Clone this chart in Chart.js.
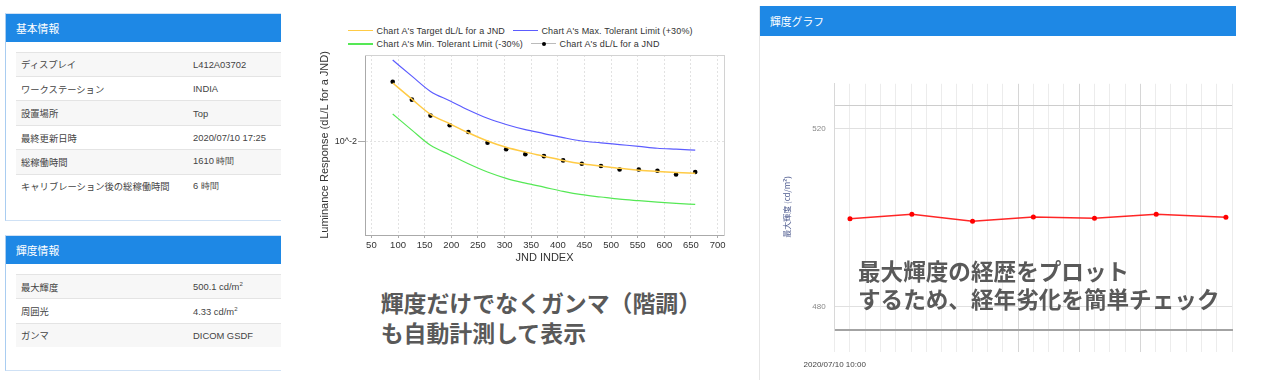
<!DOCTYPE html>
<html><head><meta charset="utf-8">
<script src="https://cdn.jsdelivr.net/npm/chart.js@4.4.0/dist/chart.umd.min.js"></script>
<style>
html,body{margin:0;padding:0;background:#fff;width:1280px;height:380px;overflow:hidden;font-family:"Liberation Sans",Arial,sans-serif;}
.panel{position:absolute;box-sizing:border-box;background:#fff;border:1px solid #cfe1f5;border-left-color:#a9cdf1;border-right:none;overflow:hidden;}
.phead{background:#1e88e5;color:#fff;font-family:"Noto Sans CJK JP";font-size:10.8px;height:28px;line-height:28px;padding-left:10px;}
.rows{position:absolute;left:10px;right:0;}
.row{height:24.4px;box-sizing:border-box;border-top:1px solid #e4e4e4;display:flex;align-items:center;}
.row.g{background:#f7f7f7;}
.row .k{width:177px;padding-left:5px;box-sizing:border-box;font-family:"Noto Sans CJK JP";font-size:9.3px;color:#444;}
.row .v{font-size:9.4px;color:#444;}
.note{position:absolute;font-family:"Noto Sans CJK JP";font-weight:bold;font-size:22.6px;color:#595959;white-space:nowrap;}
#legend{position:absolute;left:348px;top:24px;font-size:9px;color:#333;letter-spacing:0.15px;}
#legend .lrow{display:flex;align-items:center;height:13.3px;}
#legend .item{display:flex;align-items:center;margin-right:8px;white-space:nowrap;}
#legend .sw{position:relative;width:25px;height:1.5px;margin-right:3.5px;}
#legend .dot{position:absolute;left:10.5px;top:-1.75px;width:4px;height:4px;border-radius:50%;background:#000;}
</style></head>
<body>
<!-- left panels -->
<div class="panel" style="left:5px;top:13px;width:276px;height:208px;">
  <div class="phead">基本情報</div>
  <div class="rows" id="info1" style="top:37.7px;"></div>
</div>
<div class="panel" style="left:5px;top:235px;width:276px;height:136px;">
  <div class="phead">輝度情報</div>
  <div class="rows" id="info2" style="top:38px;"></div>
</div>

<!-- middle chart -->
<div id="legend"></div>
<div style="position:absolute;left:310px;top:45px;width:420px;height:224px;"><canvas id="jnd" width="420" height="224"></canvas></div>
<div class="note" style="left:380.7px;top:286.7px;line-height:30px;font-size:22.9px;">輝度だけでなくガンマ（階調）<br>も自動計測して表示</div>

<!-- right panel -->
<div class="panel" style="left:759px;top:6px;width:477px;height:390px;border-color:#e8eef5;border-left-color:#e6e6e6;border-top:none;">
  <div class="phead" style="height:30px;line-height:30px;">輝度グラフ</div>
</div>
<div style="position:absolute;left:770px;top:70px;width:470px;height:300px;"><canvas id="lum" width="470" height="300"></canvas></div>
<div class="note" style="left:858px;top:256.9px;line-height:28.3px;">最大輝度の経歴をプロット<br>するため、経年劣化を簡単チェック</div>

<script>
// ---------- info tables ----------
const infoKeys1 = ['ディスプレイ','ワークステーション','設置場所','最終更新日時','総稼働時間','キャリブレーション後の総稼働時間'];
const infoVals1 = ['L412A03702','INDIA','Top','2020/07/10 17:25','1610 時間','6 時間'];
const infoKeys2 = ['最大輝度','周囲光','ガンマ'];
const infoVals2 = ['500.1 cd/m<sup style="font-size:6px">2</sup>','4.33 cd/m<sup style="font-size:6px">2</sup>','DICOM GSDF'];

// ---------- JND chart data ----------
const jndIndex   = [90,126,161,197,232,268,303,339,374,410,445,481,516,552,587,622,658];
const targetDLL  = [0.0195,0.0162,0.0136,0.0122,0.0110,0.0100,0.0093,0.0088,0.0084,0.0080,0.0077,0.0075,0.0073,0.00715,0.00705,0.00697,0.0069];
const maxLimit   = [0.0254,0.0211,0.0177,0.0159,0.0143,0.0130,0.0121,0.0114,0.0109,0.0104,0.0100,0.0098,0.0096,0.0094,0.0092,0.0091,0.0090];
const minLimit   = [0.01365,0.01134,0.00952,0.00854,0.0077,0.0070,0.00651,0.00616,0.00588,0.0056,0.00539,0.00525,0.00512,0.00503,0.00495,0.00488,0.00482];
const measuredDLL= [0.0198,0.0161,0.0134,0.0120,0.0111,0.0098,0.0091,0.0086,0.0084,0.0080,0.0077,0.0075,0.0072,0.0072,0.0071,0.0068,0.0070];
const jndSeriesNames = ["Chart A's Target dL/L for a JND","Chart A's Max. Tolerant Limit (+30%)","Chart A's Min. Tolerant Limit (-30%)","Chart A's dL/L for a JND"];
const jndXTicks = [50,100,150,200,250,300,350,400,450,500,550,600,650,700];
const jndYTicks = [0.01];
const jndYTickLabels = ['10^-2'];

// ---------- luminance chart data ----------
const lumPos = [1,5.05,9.02,13,17,21.04,25.6];
const maxLuminance = [499.8,500.8,499.2,500.2,499.9,500.8,500.1];
const lumXGrid = [0,1,2,3,4,5,6,7,8,9,10,11,12,13,14,15,16,17,18,19,20,21,22,23,24,25,26];
const lumXMajor = [12,16,20];
const lumXTickLabels = ['2020/07/10 10:00'];
const lumYTicks = [480,520,525.3];
const lumYTickLabels = ['480','520',''];

function fillRows(id, keys, vals){
  const el = document.getElementById(id);
  keys.forEach((k,i)=>{
    const r = document.createElement('div');
    r.className = 'row' + (i%2===0 ? ' g' : '');
    r.innerHTML = '<span class="k">'+k+'</span><span class="v">'+vals[i]+'</span>';
    el.appendChild(r);
  });
}
fillRows('info1', infoKeys1, infoVals1);
fillRows('info2', infoKeys2, infoVals2);

const pts = (xs, ys) => xs.map((x,i)=>({x:x, y:ys[i]}));
const F = 'Liberation Sans';

const jnd = new Chart(document.getElementById('jnd'), {
  type:'line',
  data:{datasets:[
    {label:jndSeriesNames[0], data:pts(jndIndex,targetDLL), borderColor:'#ffcb45', backgroundColor:'#ffcb45', borderWidth:1.5, pointRadius:0, cubicInterpolationMode:'monotone', xAxisID:'x', yAxisID:'y'},
    {label:jndSeriesNames[1], data:pts(jndIndex,maxLimit), borderColor:'#5c5cff', backgroundColor:'#5c5cff', borderWidth:1.2, pointRadius:0, cubicInterpolationMode:'monotone', xAxisID:'x', yAxisID:'y'},
    {label:jndSeriesNames[2], data:pts(jndIndex,minLimit), borderColor:'#55e855', backgroundColor:'#55e855', borderWidth:1.2, pointRadius:0, cubicInterpolationMode:'monotone', xAxisID:'x', yAxisID:'y'},
    {label:jndSeriesNames[3], data:pts(jndIndex,measuredDLL), showLine:false, borderColor:'#bbbbbb', backgroundColor:'#000', pointBackgroundColor:'#000', pointBorderWidth:0, pointRadius:2.3, xAxisID:'x', yAxisID:'y'}
  ]},
  options:{
    responsive:false, animation:false, devicePixelRatio:1,
    layout:{padding:{left:4.4, top:10, right:6, bottom:0}},
    plugins:{legend:{display:false}, tooltip:{enabled:false}},
    scales:{
      x:{type:'linear', position:'bottom', min:38, max:712,
         afterBuildTicks:s=>{s.ticks = jndXTicks.map(v=>({value:v}));},
         afterFit:s=>{s.height=34;},
         ticks:{color:'#333', font:{size:9.5, family:F}, padding:2, maxRotation:0, autoSkip:false, callback:v=>String(v)},
         grid:{color:'#e2e2e2', tickColor:'#aaa', tickLength:3, tickBorderDash:[]},
         border:{color:'#aaa', dash:[2,2]},
         title:{display:true, text:'JND INDEX', color:'#333', font:{size:11, family:F}, padding:{top:2,bottom:4}}},
      y:{type:'logarithmic', position:'left', min:0.00339, max:0.02692,
         afterBuildTicks:s=>{s.ticks = jndYTicks.map(v=>({value:v}));},
         afterFit:s=>{s.width=50.6;},
         ticks:{color:'#333', font:{size:9, family:F}, padding:1, autoSkip:false, callback:(v,i)=>jndYTickLabels[i]},
         grid:{color:'#e2e2e2', tickColor:'#aaa', tickLength:7, tickBorderDash:[]},
         border:{color:'#aaa', dash:[2,2]},
         title:{display:true, text:'Luminance Response (dL/L for a JND)', color:'#333', font:{size:11, family:F}, padding:{top:4,bottom:4}}},
      x2:{type:'linear', position:'top', min:38, max:712, ticks:{display:false}, grid:{display:false}, border:{display:true, color:'#d2d2d2'}, afterFit:s=>{s.height=0;}},
      y2:{type:'linear', position:'right', min:0, max:1, ticks:{display:false}, grid:{display:false}, border:{display:true, color:'#d2d2d2'}, afterFit:s=>{s.width=0;}}
    }
  }
});

// HTML legend built from the chart's datasets
(function(){
  const ds = jnd.data.datasets;
  const rowsDef = [[0,1],[2,3]];
  const lg = document.getElementById('legend');
  rowsDef.forEach(r=>{
    const row = document.createElement('div'); row.className='lrow';
    r.forEach(i=>{
      const it = document.createElement('div'); it.className='item';
      const sw = document.createElement('span'); sw.className='sw';
      sw.style.background = ds[i].borderColor;
      if (ds[i].showLine === false) { sw.style.height='1px'; const d=document.createElement('span'); d.className='dot'; d.style.top='-1.5px'; sw.appendChild(d); }
      const tx = document.createElement('span'); tx.textContent = ds[i].label;
      it.appendChild(sw); it.appendChild(tx); row.appendChild(it);
    });
    lg.appendChild(row);
  });
})();

new Chart(document.getElementById('lum'), {
  type:'line',
  data:{datasets:[{label:'最大輝度', data:pts(lumPos,maxLuminance), borderColor:'rgba(255,0,0,0.85)', borderWidth:1.5, pointRadius:2.5, pointBackgroundColor:'#ff0000', pointBorderWidth:0, tension:0}]},
  options:{
    responsive:false, animation:false, devicePixelRatio:1,
    layout:{padding:{left:8.2, top:11, right:3.7, bottom:0}},
    plugins:{legend:{display:false}, tooltip:{enabled:false}},
    scales:{
      x:{type:'linear', min:0, max:26,
         afterBuildTicks:s=>{s.ticks = lumXGrid.map(v=>({value:v}));},
         afterFit:s=>{s.height=40;},
         ticks:{autoSkip:false, maxRotation:0, padding:8, color:'#444', font:{size:8, family:F}, callback:(v,i)=> i < lumXTickLabels.length ? lumXTickLabels[i] : ''},
         grid:{color:c=> lumXMajor.includes(c.tick && c.tick.value) ? '#d6d6d6' : '#ececec', tickLength:22},
         border:{color:'#a3a3a3', width:2}},
      y:{type:'linear', min:474.8, max:530.1,
         afterBuildTicks:s=>{s.ticks = lumYTicks.map(v=>({value:v}));},
         afterFit:s=>{s.width=56.5;},
         ticks:{padding:9, color:'#888', font:{size:8, family:F}, callback:(v,i)=>lumYTickLabels[i]},
         grid:{color:c=> (c.tick && c.tick.value > 521) ? '#cdcdcd' : '#e0e0e0', drawTicks:false},
         border:{color:'#d8d8d8'},
         title:{display:true, text:'最大輝度 (cd/m²)', color:'#4d5a8e', font:{size:8, family:'Noto Sans CJK JP'}, padding:{top:4,bottom:4}}}
    }
  }
});
</script>
</body></html>
